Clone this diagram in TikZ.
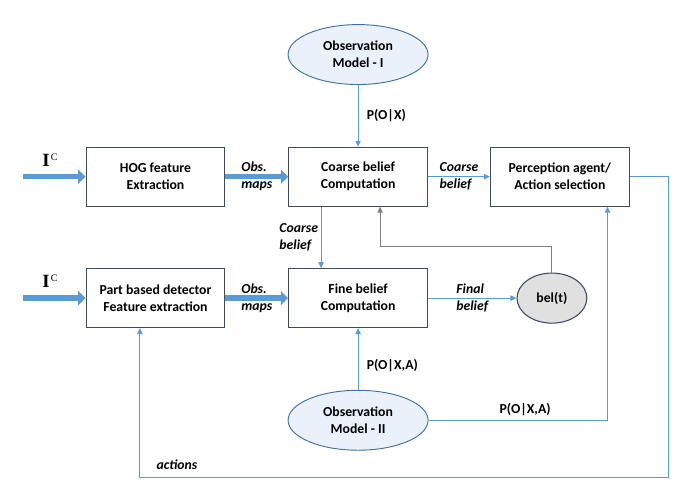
\documentclass[tikz,border=0pt]{standalone}
\usepackage{fontspec}
\setmainfont{Carlito}
\newfontfamily\serifI{Liberation Serif}
\usetikzlibrary{positioning,shapes.geometric,arrows.meta}
\definecolor{arrowblue}{HTML}{5B9BD5}
\definecolor{boxline}{HTML}{3F4A5A}
\definecolor{ellline}{HTML}{41719C}
\definecolor{ellfill}{HTML}{EAF1FA}
\definecolor{belfill}{HTML}{E0E0E0}
\definecolor{fbgray}{HTML}{7F7F7F}

\begin{document}
\begin{tikzpicture}[
boxnode/.style={rectangle, draw=boxline, line width=0.8pt, minimum width=3.66cm, minimum height=1.55cm, align=center, font=\fontsize{10.3}{12.75}\selectfont\bfseries},
ellipsenode/.style={ellipse, draw=ellline, fill=ellfill, line width=0.7pt, minimum width=3.69cm, minimum height=1.58cm, inner sep=0pt, align=center, font=\fontsize{10.3}{12.75}\selectfont\bfseries},
belnode/.style={ellipse, draw=boxline, fill=belfill, line width=0.8pt, minimum width=1.84cm, minimum height=1.32cm, inner sep=0pt, font=\fontsize{10.3}{12.75}\selectfont\bfseries},
bigarrow/.style={-{Triangle[length=5.5pt, width=10.5pt]}, line width=4pt, arrowblue},
thinarrow/.style={-{Triangle[length=4.5pt, width=4pt]}, line width=0.75pt, arrowblue},
arrowlabel/.style={text=black, align=left, font=\fontsize{10.3}{12.75}\selectfont\bfseries\itshape},
problabel/.style={text=black, font=\fontsize{10.3}{12.75}\selectfont\bfseries},
inlabel/.style={text=black, xshift=7.1mm, yshift=4.4mm, font=\serifI\fontsize{14}{14}\selectfont\bfseries},
]
\useasboundingbox (-4.099,-8.232) rectangle (14.037,4.658);
%Nodes
\node[boxnode] (hog) {HOG feature\\Extraction};
\node[boxnode, below of=hog, node distance=3.2cm] (part) {Part based detector\\Feature extraction};
\node[boxnode, right of=hog, node distance=5.34cm] (coarse) {Coarse belief\\Computation};
\node[boxnode, right of=part, node distance=5.34cm] (fine) {Fine belief\\Computation};
\node[boxnode, right of=coarse, node distance=5.32cm] (percep) {Perception agent/\\Action selection};
\node[ellipsenode, above of=coarse, node distance=3.22cm] (obsI) {Observation\\Model - I};
\node[ellipsenode, below of=fine, node distance=3.22cm] (obsII) {Observation\\Model - II};
\node[belnode, right of=fine, node distance=5.11cm] (bel) {bel(t)};
\node[coordinate, left of=hog, node distance=3.49cm] (inhog) {};
\node[coordinate, left of=part, node distance=3.49cm] (inpart) {};
\node[coordinate, right of=percep, node distance=2.86cm] (loopr) {};
\node[coordinate, below of=loopr, node distance=7.94cm] (loopbr) {};
\node[coordinate, above of=bel, node distance=1.35cm] (belup) {};

%Lines
\draw[bigarrow] (inhog) node[inlabel]{I\kern1pt\raisebox{4.3pt}{\mdseries\fontsize{7.5}{7.5}\selectfont C}} -- (hog.west);
\draw[bigarrow] (inpart) node[inlabel]{I\kern1pt\raisebox{4.3pt}{\mdseries\fontsize{7.5}{7.5}\selectfont C}} -- (part.west);
\draw[bigarrow] (hog.east) -- node[arrowlabel]{Obs.\\maps} (coarse.west);
\draw[bigarrow] (part.east) -- node[arrowlabel]{Obs.\\maps} (fine.west);
\draw[thinarrow] (coarse.east) -- node[arrowlabel]{Coarse\\belief} (percep.west);
\draw[thinarrow] (fine.east) -- node[arrowlabel]{Final\\belief} (bel.west);
\draw[thinarrow] ([xshift=-9.75mm]coarse.south) -- node[arrowlabel, left, xshift=0.5mm]{Coarse\\belief} ([xshift=-9.75mm]fine.north);
\draw[thinarrow] (obsI.south) -- node[problabel, right, xshift=1mm]{P(O|X)} (coarse.north);
\draw[thinarrow] (obsII.north) -- node[problabel, right, xshift=1mm, pos=0.4]{P(O|X,A)} (fine.south);
\draw[thinarrow] (obsII.east) -| node[problabel, above, pos=0.27]{P(O|X,A)} ([xshift=12.55mm]percep.south);
\draw[thinarrow, fbgray] (bel.north) -- (belup) -| ([xshift=5.8mm]coarse.south);
\draw[thinarrow] (percep.east) -- (loopr) -- (loopbr) -| node[arrowlabel, above, pos=0.465, yshift=1mm]{actions} ([xshift=-4.1mm]part.south);

\end{tikzpicture}
\end{document}
